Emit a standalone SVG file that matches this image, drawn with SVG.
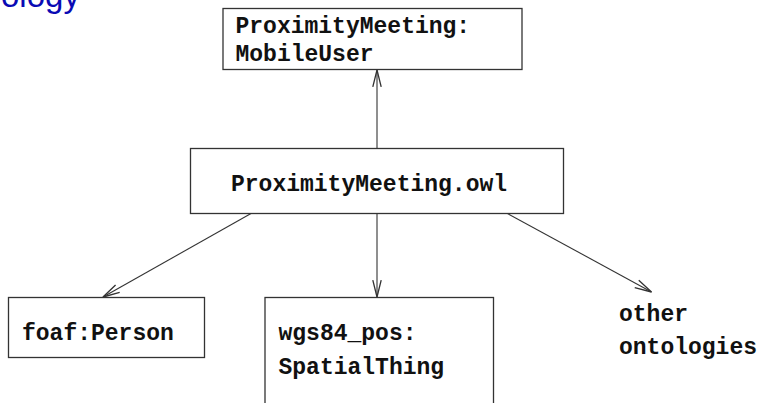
<svg xmlns="http://www.w3.org/2000/svg" width="759" height="403" viewBox="0 0 759 403">
<style>
.box{fill:#fff;stroke:#333;stroke-width:1.3}
.lbl{font-family:"Liberation Mono","Courier New",monospace;font-weight:bold;font-size:23px;fill:#111}
.con{fill:none;stroke:#333;stroke-width:1.1}
.title{font-family:"Liberation Sans",Arial,sans-serif;font-size:33px;fill:#0a0ab4}
</style>
<defs>
<marker id="arr" markerUnits="userSpaceOnUse" markerWidth="20" markerHeight="12" viewBox="-15 -5 16 10" refX="0" refY="0" orient="auto">
<path d="M-14,-3.5 L0,0 L-14,3.5" fill="none" stroke="#333" stroke-width="1.1"/>
</marker>
</defs>
<rect width="759" height="403" fill="#fff"/>
<text class="title" x="1" y="7">ology</text>
<g id="connectors">
<line class="con" x1="377" y1="148" x2="377" y2="70" marker-end="url(#arr)"/>
<line class="con" x1="251" y1="213.5" x2="103" y2="297" marker-end="url(#arr)"/>
<line class="con" x1="377" y1="213.5" x2="377" y2="297" marker-end="url(#arr)"/>
<line class="con" x1="507.5" y1="213.5" x2="651.5" y2="292" marker-end="url(#arr)"/>
</g>
<g id="mobileuser">
<rect class="box" x="223" y="8.5" width="299" height="61"/>
<text class="lbl" x="235.5" y="32.5">ProximityMeeting:</text>
<text class="lbl" x="235.5" y="60.5">MobileUser</text>
</g>
<g id="owl">
<rect class="box" x="190.5" y="148.5" width="373" height="65"/>
<text class="lbl" x="231" y="191">ProximityMeeting.owl</text>
</g>
<g id="foaf">
<rect class="box" x="8.5" y="297.5" width="196" height="60"/>
<text class="lbl" x="22" y="339.5">foaf:Person</text>
</g>
<g id="wgs84">
<rect class="box" x="265" y="297.5" width="228.5" height="120"/>
<text class="lbl" x="278.5" y="340">wgs84_pos:</text>
<text class="lbl" x="278.5" y="373.5">SpatialThing</text>
</g>
<g id="other">
<text class="lbl" x="619" y="321">other</text>
<text class="lbl" x="619" y="353.5">ontologies</text>
</g>
</svg>
